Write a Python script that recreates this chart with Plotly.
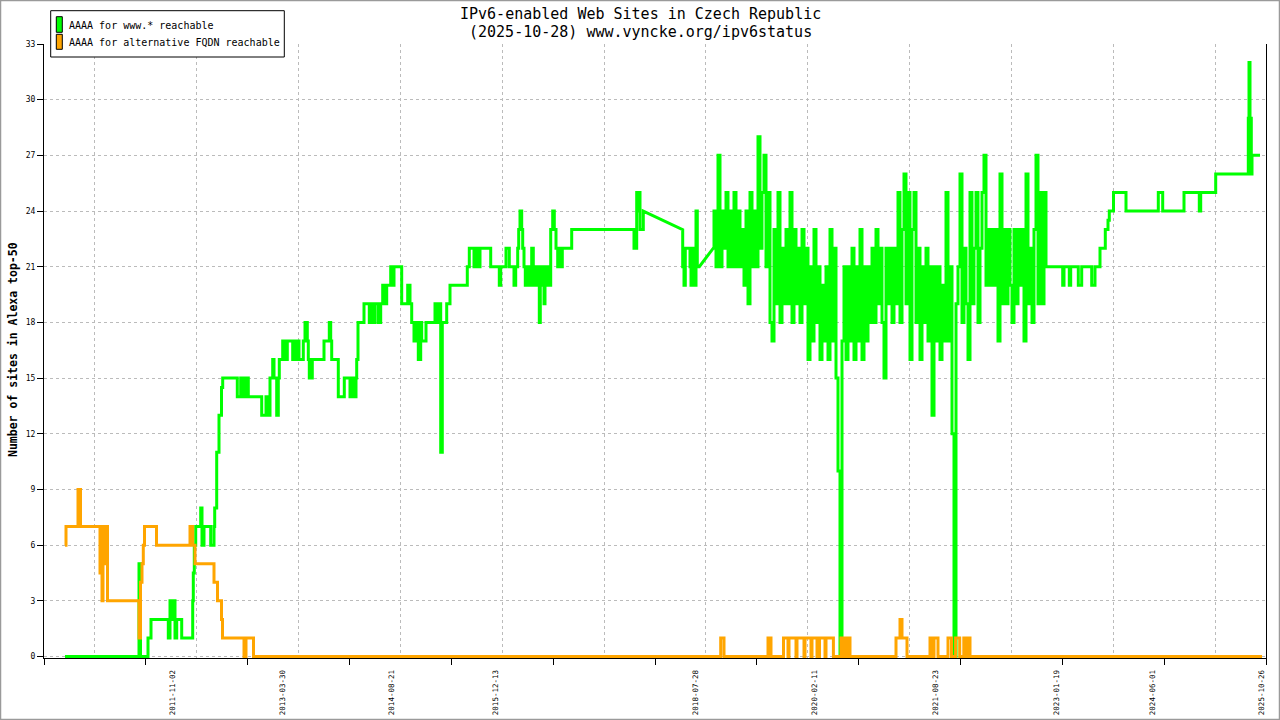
import plotly.graph_objects as go

# ---------------- canvas / layout geometry ----------------
W, H = 1280, 720
ML, MR, MT, MB = 44, 14, 44, 62
PW = W - ML - MR          # plot width in px
PH = H - MT - MB          # plot height in px


def px_x(px):
    return (px - ML) / PW


def px_y(py):
    return (H - MB - py) / PH


# ---------------- data ----------------
# x axis is a sample index (0 .. 1222); date labels sit at given sample positions
x_span = 1222
x_tick_labels = ["2011-11-02", "2013-03-30", "2014-08-21", "2015-12-13", "2018-07-28",
                 "2020-02-11", "2021-08-23", "2023-01-19", "2024-06-01", "2025-10-26"]
x_label_pos = [128.3, 239, 347.8, 451.2, 651.4, 770.4, 891.4, 1012.4, 1108.8, 1217.5]
y_ticks = [0, 3, 6, 9, 12, 15, 18, 21, 24, 27, 30, 33]

# change points (sample, new value); a third item 'ramp' means a sloped transition
green_early = [
    (21, 0), (95, 5), (96.5, 0), (104, 1), (107, 2), (124.3, 1), (126, 3), (127.7, 2), (129.3, 3),
    (131, 1), (132.7, 2), (137.7, 1), (148.7, 3), (149.3, 4.5), (150.3, 6), (151.7, 7), (156.7, 8),
    (158, 6), (160, 7), (166.7, 6), (170, 7), (170.7, 8), (172.7, 11), (175, 13), (177.5, 14.5),
    (178.7, 15), (193.3, 14), (196.7, 15), (198.5, 14), (200, 15), (201.5, 14), (203, 15),
    (204.3, 14), (217.7, 13), (222, 14), (223.3, 13), (226, 15), (228.7, 16), (230, 15),
    (232.7, 13), (234.3, 15), (235.3, 16), (238.7, 17), (241, 16), (243.3, 17), (248.7, 16),
    (251, 17), (252.7, 16), (254, 17), (255, 16), (259.3, 17), (261, 18), (263.3, 17), (264.3, 16),
    (265.3, 15), (268.3, 16), (280, 17), (285.3, 18), (286.7, 17), (287.7, 16), (294.3, 14),
    (300.3, 15), (306, 14), (307.7, 15), (310, 14), (312, 15), (312.7, 16), (314, 18), (320, 19),
    (325.3, 18), (327.5, 19), (328.5, 18), (331, 19), (334.3, 18), (336.7, 19), (338.7, 20),
    (340.7, 19), (342.7, 20), (346.7, 21), (348.7, 20), (350, 21), (357.7, 19), (363.7, 20),
    (366, 19), (367.7, 18), (370, 17), (372.7, 18), (374.3, 16), (376.7, 18), (377.7, 17),
    (382, 18), (391, 19), (393.3, 18), (395.3, 19), (396.7, 11), (398.3, 18), (402.7, 19),
    (406, 20), (423.3, 21), (425.3, 22), (430, 21), (432, 22), (434, 21), (436, 22), (446.7, 21),
    (455.3, 20), (456.7, 21), (462, 22), (465.3, 21), (470, 20), (471.7, 21), (473.7, 22),
    (474.7, 23), (476, 24), (477.7, 23), (478.7, 22), (480, 21), (481.3, 20), (484.3, 21),
    (486, 20), (487.7, 22), (489.3, 20), (491, 21), (492.7, 20), (494.3, 21), (495.3, 18),
    (496.3, 21), (498, 20), (499, 21), (500, 19), (501, 21), (502.7, 20), (504, 21), (505.3, 20),
    (506.7, 23), (508.7, 24), (510.3, 23), (512, 22), (513.7, 21), (515.3, 22), (516.7, 21),
    (518.3, 22), (527.7, 23), (590, 22), (592.7, 25), (594.3, 24), (595.3, 25), (596, 23),
    (599.3, 24), (638.5, 23, "ramp"), (638.7, 21), (640, 20), (641.3, 22), (646, 21), (647, 20),
    (648.7, 22), (651, 20), (652, 24), (653.3, 21), (655.3, 21), (669.3, 22, "ramp"),
]

# dense daily fluctuation 2018-2023, one value every 2 samples starting at sample 670
green_noise_start = 670
green_noise_step = 2
green_noise = [
    24, 21, 27, 21, 24, 22, 25, 21, 24, 21, 25, 21, 24, 21, 23, 20, 24,
    19, 25, 21, 24, 21, 28, 22, 25, 27, 21, 25, 18, 17,
    23, 19, 25, 18, 22, 19, 23, 19, 25, 18, 23, 19, 22, 18, 23, 19, 22,
    16, 21, 17, 23, 18, 21, 16, 20, 17, 21, 16, 23, 17, 22, 15, 10, 0,
    17, 21, 16, 21, 17, 22, 16, 21, 17, 23, 16, 21, 17, 21, 18,
    22, 18, 23, 19, 22, 18, 15, 22, 19, 22, 18, 22, 19,
    25, 18, 23, 26, 19, 25, 16, 23,
    25, 18, 22, 16, 21, 18, 22, 17, 21,
    13, 21, 17, 21, 16, 20, 17, 25, 17, 21, 12, 0, 19, 21, 26,
    18, 22, 19, 16, 25, 19, 22, 25, 18, 22,
    25, 27, 20, 23, 20, 23, 20, 23,
    17, 26, 19, 23, 19, 23, 20, 18, 23, 19, 23, 20,
    23, 17, 26, 19, 22, 18, 23, 27, 19, 25, 19, 25, 21,
]

green_late = [
    (1018.7, 20), (1020, 21), (1025.3, 20), (1026.7, 21), (1034.3, 20), (1037.7, 21),
    (1047.7, 20), (1051, 21), (1056, 22), (1061.3, 23), (1064, 23.5), (1065.3, 24), (1069.5, 25),
    (1082, 24), (1114.3, 25), (1118.7, 24), (1140, 25), (1155.3, 24), (1156.7, 25), (1171.7, 26),
    (1204.3, 29), (1205, 32), (1206, 26), (1206.7, 29), (1207.3, 26), (1208, 27), (1216, 27),
]

orange_changes = [
    (21, 6), (22, 7), (34, 9), (36.5, 7), (56, 4.5), (57.5, 7), (58, 3), (59, 7), (61, 5),
    (62.5, 7), (63.5, 3), (95, 1), (96.5, 4), (98, 5), (99.3, 6), (100.5, 7), (112.5, 6),
    (146, 7), (148.7, 6), (151, 5), (170, 4), (173.5, 3), (177.5, 2), (178.5, 1), (200, 0),
    (202, 1), (209.5, 0), (676.7, 1), (680, 0), (724, 1), (727, 0), (739.5, 1), (744, 0),
    (745, 1), (752, 0), (753, 1), (760, 0), (761, 1), (767, 0), (768, 1), (773, 0), (775.5, 1),
    (781, 0), (782, 1), (789.4, 0), (797, 1), (800, 0), (803, 1), (806, 0), (852, 1), (856, 2),
    (858, 1), (863, 0), (886, 1), (889, 0), (890, 1), (894, 0), (904, 1), (907.5, 0),
    (911.6, 1), (915.7, 0), (919.8, 1), (922, 0), (923, 1), (926, 0), (1218, 0),
]

series_names = ["AAAA for www.* reachable", "AAAA for alternative FQDN reachable"]
series_colors = ["#00ff00", "#ffa500"]


def to_vertices(changes):
    xs, ys = [changes[0][0]], [changes[0][1]]
    for c in changes[1:]:
        x, y = c[0], c[1]
        if len(c) == 2:          # vertical step
            xs.append(x)
            ys.append(ys[-1])
        xs.append(x)
        ys.append(y)
    return xs, ys


green_changes = (green_early
                 + [(green_noise_start + i * green_noise_step, v) for i, v in enumerate(green_noise)]
                 + green_late)
gx, gy = to_vertices(green_changes)
ox, oy = to_vertices(orange_changes)

MONO = "DejaVu Sans Mono"

fig = go.Figure()
fig.add_trace(go.Scatter(x=gx, y=gy, mode="lines", line=dict(color=series_colors[0], width=3),
                         name=series_names[0], showlegend=False, hoverinfo="skip"))
fig.add_trace(go.Scatter(x=ox, y=oy, mode="lines", line=dict(color=series_colors[1], width=3),
                         name=series_names[1], showlegend=False, hoverinfo="skip"))
# carrier for the secondary (grid-only) x axis
fig.add_trace(go.Scatter(x=[0, x_span], y=[None, None], xaxis="x2", mode="lines",
                         showlegend=False, hoverinfo="skip"))

major_marks = [k * x_span / 12 for k in range(13)]

fig.update_layout(
    width=W, height=H, autosize=False,
    margin=dict(l=ML, r=MR, t=MT, b=MB, pad=0, autoexpand=False),
    paper_bgcolor="white", plot_bgcolor="white",
    showlegend=False,
    font=dict(family=MONO, color="black"),
    xaxis=dict(
        range=[0, x_span], tickmode="array", tickvals=x_label_pos, ticktext=x_tick_labels,
        tickangle=-90, ticks="", tickfont=dict(family=MONO, size=7.5, color="black"),
        ticklabelstandoff=8, automargin=False,
        showgrid=False, zeroline=False, showline=True, linecolor="black", linewidth=1,
        minor=dict(tickmode="array", tickvals=major_marks, ticks="outside", ticklen=6,
                   tickcolor="black", tickwidth=1, showgrid=False),
    ),
    xaxis2=dict(
        overlaying="x", anchor="y", side="bottom", range=[0, x_span], automargin=False,
        tickmode="linear", tick0=x_span / 24, dtick=x_span / 12, showticklabels=False, ticks="",
        showgrid=True, griddash="dot", gridcolor="#bbbbbb", gridwidth=1,
        showline=False, zeroline=False,
    ),
    yaxis=dict(
        range=[-0.08, 33], tickmode="array", tickvals=y_ticks, ticks="outside", ticklen=6,
        tickcolor="black", tickfont=dict(family=MONO, size=8, color="black"), automargin=False,
        showgrid=True, griddash="dot", gridcolor="#bbbbbb", gridwidth=1,
        zeroline=False, showline=True, mirror=True, linecolor="black", linewidth=1,
    ),
)

shapes = [
    # outer image frame
    dict(type="rect", xref="paper", yref="paper", x0=px_x(0.5), x1=px_x(1279.5),
         y0=px_y(719.5), y1=px_y(0.5), line=dict(color="#9a9a9a", width=1.5), layer="above"),
    # legend box
    dict(type="rect", xref="paper", yref="paper", x0=px_x(50.7), x1=px_x(284.3),
         y0=px_y(57), y1=px_y(10.7), line=dict(color="black", width=1), fillcolor="white",
         layer="above"),
    dict(type="rect", xref="paper", yref="paper", x0=px_x(56.3), x1=px_x(62.3),
         y0=px_y(32.3), y1=px_y(16.7), line=dict(color="black", width=1),
         fillcolor=series_colors[0], layer="above"),
    dict(type="rect", xref="paper", yref="paper", x0=px_x(56.3), x1=px_x(62.3),
         y0=px_y(49.3), y1=px_y(34.3), line=dict(color="black", width=1),
         fillcolor=series_colors[1], layer="above"),
]
fig.update_layout(shapes=shapes)

annotations = [
    dict(text=series_names[0], xref="paper", yref="paper", x=px_x(66.5), y=px_y(25.5),
         xanchor="left", yanchor="middle", showarrow=False, font=dict(family=MONO, size=10)),
    dict(text=series_names[1], xref="paper", yref="paper", x=px_x(66.5), y=px_y(42.5),
         xanchor="left", yanchor="middle", showarrow=False, font=dict(family=MONO, size=10)),
    dict(text="IPv6-enabled Web Sites in Czech Republic", xref="paper", yref="paper",
         x=px_x(640), y=px_y(14), xanchor="center", yanchor="middle", showarrow=False,
         font=dict(family=MONO, size=15)),
    dict(text="(2025-10-28) www.vyncke.org/ipv6status", xref="paper", yref="paper",
         x=px_x(640), y=px_y(32), xanchor="center", yanchor="middle", showarrow=False,
         font=dict(family=MONO, size=15)),
    dict(text="<b>Number of sites in Alexa top-50</b>", xref="paper", yref="paper",
         x=px_x(13), y=px_y(350), xanchor="center", yanchor="middle", textangle=-90,
         showarrow=False, font=dict(family=MONO, size=11.5)),
]
fig.update_layout(annotations=annotations)

fig.write_html("out.html", config={"displayModeBar": False},
               post_script="document.body.style.margin='0';document.body.style.overflow='hidden';")
